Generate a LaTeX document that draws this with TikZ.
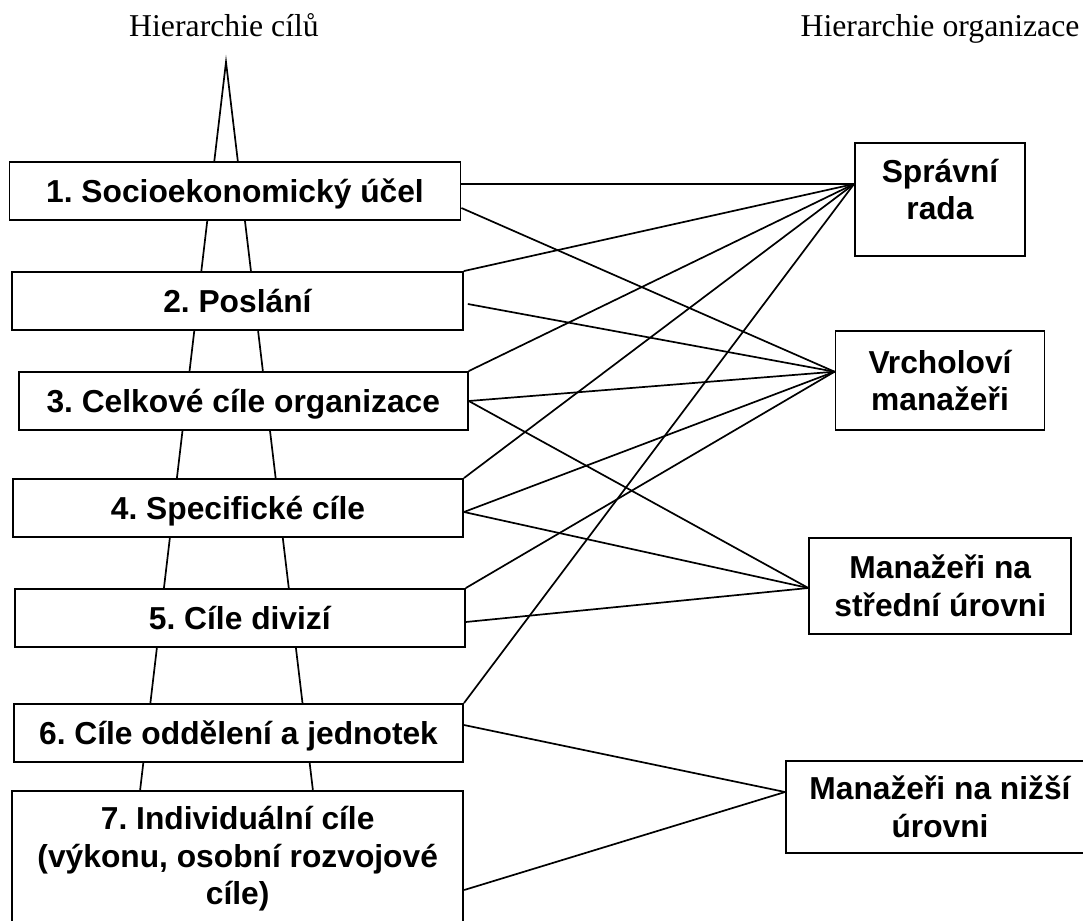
\documentclass[tikz,border=0pt]{standalone}
\usepackage{fontspec}
\setmainfont{Liberation Serif}
\newfontfamily\boxfont{Liberation Sans}
\usetikzlibrary{calc,backgrounds}
\frenchspacing

\begin{document}
\begin{tikzpicture}
   [x=1pt,y=-1pt,
      goal/.style={shape=rectangle,draw=black,fill=white,line width=1.9pt,inner sep=0pt,
      font=\boxfont\bfseries\fontsize{31.75pt}{37.5pt}\selectfont,align=center},
oneline/.style={goal,minimum height=58pt,text height=28.7pt,text depth=6.7pt},
level/.style={goal},
title/.style={font=\fontsize{31.75pt}{37.5pt}\selectfont,anchor=base,inner sep=0pt},
pyr/.style={line width=1.7pt},
link/.style={line width=1.7pt}]
%%
\newcommand{\xyga}{(235,191.3)}
\newcommand{\xygb}{(237.4,301)}
\newcommand{\xygc}{(243.3,401)}
\newcommand{\xygd}{(238,508)}
\newcommand{\xyge}{(239.8,618)}
\newcommand{\xygf}{(238.5,733)}
\newcommand{\xygg}{(237.7,859)}
\newcommand{\xysr}{(940,199.2)}
\newcommand{\xyvm}{(940,380.3)}
\newcommand{\xysm}{(940.3,586)}
\newcommand{\xynm}{(940,807)}
%%
\useasboundingbox (0,0) rectangle (1083,920);
\node (tgoal) [title] at (224,37) {Hierarchie cílů};
\node (torg) [title] at (940,37) {Hierarchie organizace};
%%
\node (g1) [oneline,minimum width=451pt] at \xyga {1. Socioekonomický účel};
\node (g2) [oneline,minimum width=451pt] at \xygb {2. Poslání};
\node (g3) [oneline,minimum width=449pt] at \xygc {3. Celkové cíle organizace};
\node (g4) [oneline,minimum width=450pt] at \xygd {4. Specifické cíle};
\node (g5) [oneline,minimum width=450pt] at \xyge {5. Cíle divizí};
\node (g6) [oneline,minimum width=449pt] at \xygf {6. Cíle oddělení a jednotek};
\node (g7) [goal,minimum width=451pt,minimum height=136pt] at \xygg
{7. Individuální cíle\\(výkonu, osobní rozvojové\\cíle)};
%%
\node (sr) [level,minimum width=170pt,minimum height=113pt,text depth=20pt] at \xysr {Správní\\rada};
\node (vm) [level,minimum width=209pt,minimum height=99pt] at \xyvm {Vrcholoví\\manažeři};
\node (sm) [level,minimum width=262pt,minimum height=96pt] at \xysm {Manažeři na\\střední úrovni};
\node (nm) [level,minimum width=308pt,minimum height=92pt] at \xynm {Manažeři na nižší\\úrovni};
%%
\begin{scope}[on background layer]
\coordinate (apex) at (226,62);
\coordinate (lbase) at (140,791);
\coordinate (rbase) at (313,791);
\draw[pyr] (lbase) -- (apex) -- (rbase);
%% connectors
\coordinate (srin) at ($(sr.west)+(0,-15.2)$);
\coordinate (vmin) at ($(vm.west)+(0,-8.6)$);
\coordinate (smin) at ($(sm.west)+(0,2)$);
\coordinate (nmin) at ($(nm.west)+(0,-15)$);
\draw[link] ($(g1.east)+(0,-7.3)$) -- (srin);
\draw[link] ($(g1.east)+(0,16.7)$) -- (vmin);
\draw[link] (g2.north east) -- (srin);
\draw[link] ($(g2.east)+(4,3)$) -- (vmin);
\draw[link] (g3.north east) -- (srin);
\draw[link] (g3.east) -- (vmin);
\draw[link] (g3.east) -- (smin);
\draw[link] (g4.north east) -- (srin);
\draw[link] ($(g4.east)+(0,4)$) -- (vmin);
\draw[link] ($(g4.east)+(0,4)$) -- (smin);
\draw[link] (g5.north east) -- (vmin);
\draw[link] ($(g5.east)+(0,4)$) -- (smin);
\draw[link] (g6.north east) -- (srin);
\draw[link] ($(g6.east)+(0,-8)$) -- (nmin);
\draw[link] ($(g7.east)+(0,31)$) -- (nmin);
\end{scope}
\end{tikzpicture}
\end{document}
